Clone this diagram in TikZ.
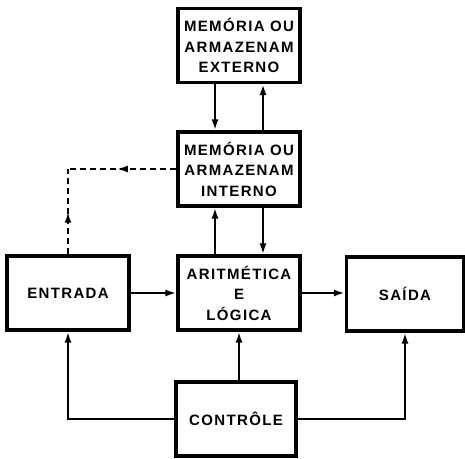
\documentclass[tikz,border=0pt]{standalone}
\usepackage{fontspec}
\setmainfont{Liberation Sans}[LetterSpace=9]
\usetikzlibrary{arrows.meta,decorations.markings}

\tikzset{
  >={Latex[length=11pt,width=7pt]},
  bloco/.style={draw,line width=3.2pt,minimum width=122pt,minimum height=74pt,
    inner sep=0pt,align=center,font=\fontsize{15}{20.5}\selectfont\bfseries},
  liga/.style={line width=2.2pt},
  setameio/.style={postaction={decorate},
    decoration={markings,mark=at position #1 with {\arrow{>}}}},
}

\begin{document}
\begin{tikzpicture}[x=1pt,y=-1pt]
          \useasboundingbox (0,0) rectangle (465,458);
          \node[bloco] (EXT) at (239,45.5) {MEMÓRIA OU\\ARMAZENAM\\EXTERNO};
          \node[bloco] (INT) at (239,169) {MEMÓRIA OU\\ARMAZENAM\\INTERNO};
          \node[bloco] (ENT) at (68,293) {ENTRADA};
          \node[bloco] (ALU) at (239,293) {ARITMÉTICA\\E\\LÓGICA};
          \node[bloco,minimum width=117pt] (SAI) at (405,294) {SAÍDA};
          \node[bloco,minimum width=120pt] (CTL) at (236,419) {CONTRÔLE};
          \coordinate (DC) at (ENT.north |- INT.west);
          \draw[liga,->] ([xshift=-24pt]EXT.south) to ([xshift=-24pt]INT.north);
          \draw[liga,->] ([xshift=24pt]INT.north) to ([xshift=24pt]EXT.south);
          \draw[liga,->] ([xshift=-24pt]ALU.north) to ([xshift=-24pt]INT.south);
          \draw[liga,->] ([xshift=24pt]INT.south) to ([xshift=24pt]ALU.north);
          \draw[liga,->] (ENT.east) to (ALU.west);
          \draw[liga,->] (ALU.east) to (ALU.east -| SAI.west);
          \draw[liga,->] (CTL.north -| ALU.south) to (ALU.south);
          \draw[liga,->] (CTL.west) -| (ENT.south);
          \draw[liga,->] (CTL.east) -| (SAI.south);
          \draw[liga,dash pattern=on 6pt off 4pt,setameio=0.55] (INT.west) to (DC);
          \draw[liga,dash pattern=on 6pt off 4pt,setameio=0.5] (ENT.north) to (DC);
        \end{tikzpicture}
\end{document}
